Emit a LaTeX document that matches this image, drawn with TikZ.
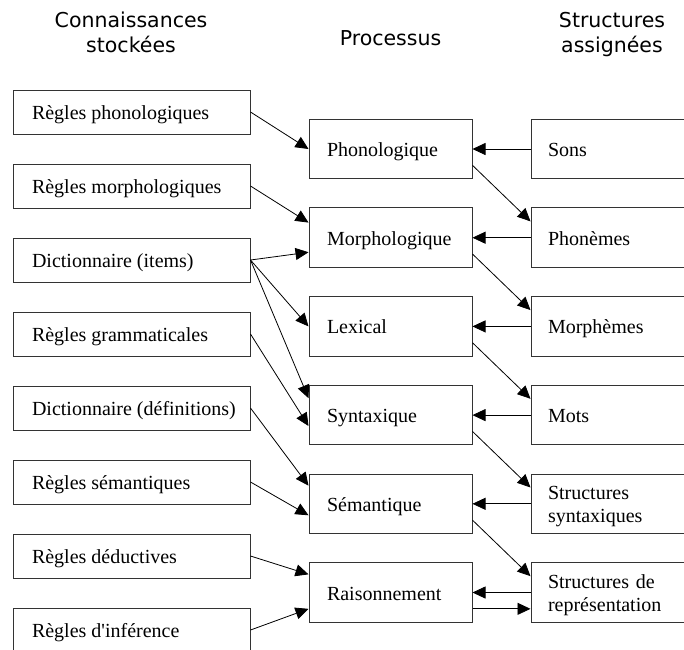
\documentclass[tikz,border=0pt]{standalone}
\usepackage{fontspec}
\setmainfont{Liberation Serif}
\newfontfamily\headfont{DejaVu Sans}
\usetikzlibrary{arrows.meta,calc}

% left-aligned text of fixed width inside the knowledge boxes
\newcommand\knowtext[1]{\makebox[199pt][l]{#1}}

\begin{document}
\begin{tikzpicture}[x=1pt,y=-1pt,
  box/.style={draw=black!80, line width=1pt, font=\fontsize{20}{23}\selectfont,
    inner ysep=0pt, anchor=center, text height=15pt, text depth=0pt},
  know/.style={box, inner xsep=19pt, minimum height=44pt},
  proc/.style={box, align=left, text width=127pt, inner xsep=18pt, minimum height=59.5pt},
  struct/.style={box, align=left, text width=128pt, inner xsep=17pt, minimum height=59.5pt},
  twolines/.style={text depth=23pt},
  link/.style={line width=0.8pt, -{Triangle[length=13pt,width=12pt]}},
  head/.style={font=\headfont\fontsize{20.5}{25}\selectfont, align=center, anchor=base, inner sep=0pt}
]
\useasboundingbox (0,0) rectangle (684,649);
\fill[white] (0,0) rectangle (684,649);
\clip (0,0) rectangle (684,649);

% column headings (anchored on the baseline of their last line)
\node[head] (h1) at (131,52.3) {Connaissances\\stockées};
\node[head] (h2) at (390.5,45) {Processus};
\node[head] (h3) at (612,52.3) {Structures\\assignées};

% stored knowledge
\node[know] (k1) at (131.5,112) {\knowtext{Règles phonologiques}};
\node[know] (k2) at (131.5,186) {\knowtext{Règles morphologiques}};
\node[know] (k3) at (131.5,260) {\knowtext{Dictionnaire (items)}};
\node[know] (k4) at (131.5,334) {\knowtext{Règles grammaticales}};
\node[know] (k5) at (131.5,408) {\knowtext{Dictionnaire (définitions)}};
\node[know] (k6) at (131.5,482) {\knowtext{Règles sémantiques}};
\node[know] (k7) at (131.5,556) {\knowtext{Règles déductives}};
\node[know] (k8) at (131.5,630) {\knowtext{Règles d\textquotesingle inférence}};

% processes
\node[proc] (p1) at (390.5,149)   {Phonologique};
\node[proc] (p2) at (390.5,237.7) {Morphologique};
\node[proc] (p3) at (390.5,326.4) {Lexical};
\node[proc] (p4) at (390.5,415.1) {Syntaxique};
\node[proc] (p5) at (390.5,503.8) {Sémantique};
\node[proc] (p6) at (390.5,592.5) {Raisonnement};

% assigned structures
\node[struct] (s1) at (612,149)   {Sons};
\node[struct] (s2) at (612,237.7) {Phonèmes};
\node[struct] (s3) at (612,326.4) {Morphèmes};
\node[struct] (s4) at (612,415.1) {Mots};
\node[struct, twolines] (s5) at (612,503.8) {Structures\\syntaxiques};
\node[struct, twolines] (s6) at (612,592.5) {Structures de\\représentation};

% knowledge feeding the processes
\draw[link] (k1.east) -- (p1.west);
\draw[link] (k2.east) -- ($(p2.north west)!0.25!(p2.south west)$);
\draw[link] (k3.east) -- ($(p2.north west)!0.74!(p2.south west)$);
\draw[link] (k3.east) -- (p3.west);
\draw[link] (k3.east) -- ($(p4.north west)!0.22!(p4.south west)$);
\draw[link] (k4.east) -- ($(p4.north west)!0.68!(p4.south west)$);
\draw[link] (k5.east) -- ($(p5.north west)!0.2!(p5.south west)$);
\draw[link] (k6.east) -- ($(p5.north west)!0.69!(p5.south west)$);
\draw[link] (k7.east) -- ($(p6.north west)!0.2!(p6.south west)$);
\draw[link] (k8.east) -- ($(p6.north west)!0.77!(p6.south west)$);

% structures read by each process
\foreach \i in {1,...,6} {
  \draw[link] (s\i.west) -- (p\i.east);
}

% each process produces the next structure
\foreach \i/\j in {1/2,2/3,3/4,4/5,5/6} {
  \draw[link] ($(p\i.north east)!0.77!(p\i.south east)$) -- ($(s\j.north west)!0.23!(s\j.south west)$);
}
\draw[link] ($(p6.north east)!0.77!(p6.south east)$) -- ($(s6.north west)!0.77!(s6.south west)$);
\end{tikzpicture}
\end{document}
